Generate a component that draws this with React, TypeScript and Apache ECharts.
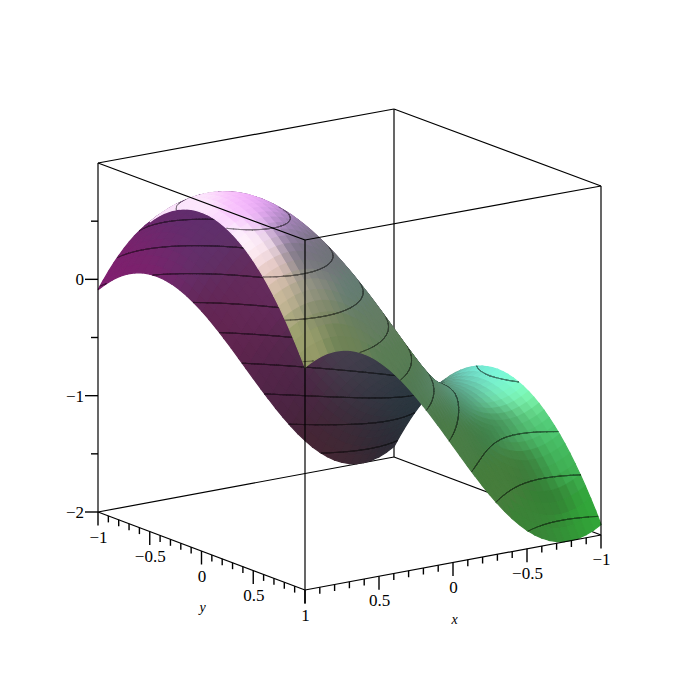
import React, { useEffect, useRef } from "react";
import * as echarts from "echarts";

// Sampled grid of the surface
const xValues = [-1,-0.95,-0.9,-0.85,-0.8,-0.75,-0.7,-0.65,-0.6,-0.55,-0.5,-0.45,-0.4,-0.35,-0.3,-0.25,-0.2,-0.15,-0.1,-0.05,0,0.05,0.1,0.15,0.2,0.25,0.3,0.35,0.4,0.45,0.5,0.55,0.6,0.65,0.7,0.75,0.8,0.85,0.9,0.95,1];
const yValues = [-1,-0.95,-0.9,-0.85,-0.8,-0.75,-0.7,-0.65,-0.6,-0.55,-0.5,-0.45,-0.4,-0.35,-0.3,-0.25,-0.2,-0.15,-0.1,-0.05,0,0.05,0.1,0.15,0.2,0.25,0.3,0.35,0.4,0.45,0.5,0.55,0.6,0.65,0.7,0.75,0.8,0.85,0.9,0.95,1];
// Height along x at y = 0
const ridgeAlongX = [-0.9093,-0.9463,-0.9738,-0.9917,-0.9996,-0.9975,-0.9854,-0.9636,-0.932,-0.8912,-0.8415,-0.7833,-0.7174,-0.6442,-0.5646,-0.4794,-0.3894,-0.2955,-0.1987,-0.0998,0,0.0998,0.1987,0.2955,0.3894,0.4794,0.5646,0.6442,0.7174,0.7833,0.8415,0.8912,0.932,0.9636,0.9854,0.9975,0.9996,0.9917,0.9738,0.9463,0.9093];
// Drop of the height along y
const dropAlongY = [1,0.9025,0.81,0.7225,0.64,0.5625,0.49,0.4225,0.36,0.3025,0.25,0.2025,0.16,0.1225,0.09,0.0625,0.04,0.0225,0.01,0.0025,0,0.0025,0.01,0.0225,0.04,0.0625,0.09,0.1225,0.16,0.2025,0.25,0.3025,0.36,0.4225,0.49,0.5625,0.64,0.7225,0.81,0.9025,1];
const contourLevels = [-1.85,-1.55,-1.25,-0.95,-0.65,-0.35,-0.05,0.25,0.55,0.85];

const xMajorTicks = [1,0.5,0,-0.5,-1];
const xMinorTicks = [0.9,0.8,0.7,0.6,0.4,0.3,0.2,0.1,-0.1,-0.2,-0.3,-0.4,-0.6,-0.7,-0.8,-0.9];
const yMajorTicks = [-1,-0.5,0,0.5,1];
const yMinorTicks = [-0.9,-0.8,-0.7,-0.6,-0.4,-0.3,-0.2,-0.1,0.1,0.2,0.3,0.4,0.6,0.7,0.8,0.9];
const zMajorTicks = [0,-1,-2];
const zMinorTicks = [0.5,-0.5,-1.5];
const fmt = (v: number) => String(v).replace("-", "\u2212");

// Viewing projection, in page pixels
const project = (x: number, y: number, z: number): [number, number] => [
  305 + 148 * (1 - x) - 103.5 * (1 - y),
  590 - 27.5 * (1 - x) - 39 * (1 - y) - (116.67 - 0.17 * (1 - x) - 0.17 * (1 - y)) * (z + 2),
];

// Shading: colours seen on each side of the sheet
const topShade: number[][] = [
  [190,200,250,225,250],[225,193,250,200,250],[205,205,255,240,255],[240,210,250,190,255],[250,200,240,170,250],
  [270,210,205,150,225],[290,225,150,125,170],[305,250,120,115,130],[325,265,110,115,120],[240,235,255,250,255],
  [255,250,255,235,245],[270,275,228,198,190],[285,300,200,185,150],[300,340,160,165,112],[305,360,145,150,100],
  [310,290,150,150,135],[320,310,125,135,100],[345,340,110,130,85],[350,290,100,125,115],[370,320,100,125,100],
  [390,360,90,125,85],[420,385,80,120,80],[440,410,75,120,70],[460,440,75,125,70],[490,490,70,125,60],
  [440,385,100,140,120],[480,368,120,245,225],[500,375,125,255,225],[490,370,125,250,232],[510,380,125,255,215],[465,378,110,200,190],[500,395,125,250,185],
  [525,400,130,250,175],[480,390,100,190,150],[465,400,70,130,95],[500,420,70,150,95],[540,425,85,210,125],
  [520,430,75,170,100],[490,430,60,120,65],[550,450,70,190,100],[530,465,55,120,55],[570,470,65,180,85],
  [510,470,70,125,60],[555,500,50,125,50],[590,505,50,170,60],[570,530,50,150,55],[595,520,50,165,55],
  [530,520,60,130,55],[545,530,55,135,55],
];
const underShade: number[][] = [
  [105,280,130,30,115],[150,245,115,40,110],[180,215,95,45,110],[200,255,95,50,105],[140,268,125,30,105],
  [250,300,100,45,95],[225,310,100,35,80],[280,370,85,40,80],[270,390,80,35,70],[240,350,95,35,75],
  [300,400,70,35,60],[310,450,70,35,50],[345,360,72,65,80],[380,380,52,60,70],[410,410,38,55,62],
  [380,445,42,40,50],[350,420,60,45,60],[335,462,70,40,50],
];
const shadeAt = (table: number[][], spread: number, px: number, py: number): number[] => {
  let w = 1e-9, r = 0, g = 0, b = 0;
  for (const c of table) {
    const d = (c[0] - px) ** 2 + (c[1] - py) ** 2;
    const k = Math.exp(-d / spread) + 1e-6 / (d + 1);
    w += k; r += k * c[2]; g += k * c[3]; b += k * c[4];
  }
  return [r / w, g / w, b / w];
};
const rgb = (c: number[], f: number) => `rgb(${Math.round(c[0] * f)},${Math.round(c[1] * f)},${Math.round(c[2] * f)})`;

const heightAt = (i: number, j: number) => ridgeAlongX[i] - dropAlongY[j];

type Quad = { pts: [number, number][]; fill: string; line: string; segs: number[][] };
const nx = xValues.length - 1;
const ny = yValues.length - 1;
const quads: Quad[] = [];
for (let i = 0; i < nx; i++) {
  for (let j = 0; j < ny; j++) {
    const pick = (a: number, b: number) => ({ z: heightAt(a, b), s: project(xValues[a], yValues[b], heightAt(a, b)) });
    const c = [pick(i, j), pick(i + 1, j), pick(i + 1, j + 1), pick(i, j + 1)];
    const pts = c.map((q) => q.s);
    let area = 0;
    for (let k = 0; k < 4; k++) {
      const n = (k + 1) % 4;
      area += pts[k][0] * pts[n][1] - pts[n][0] * pts[k][1];
    }
    const cx = (pts[0][0] + pts[1][0] + pts[2][0] + pts[3][0]) / 4;
    const cy = (pts[0][1] + pts[1][1] + pts[2][1] + pts[3][1]) / 4;
    const col = area < 0 ? shadeAt(topShade, 2 * 14 * 14, cx, cy) : shadeAt(underShade, 2 * 26 * 26, cx, cy);
    const segs: number[][] = [];
    for (const lev of contourLevels) {
      for (const t of [[c[0], c[1], c[2]], [c[0], c[2], c[3]]]) {
        const hits: number[][] = [];
        for (let k = 0; k < 3; k++) {
          const a = t[k], b = t[(k + 1) % 3];
          if ((a.z - lev) * (b.z - lev) < 0) {
            const f = (lev - a.z) / (b.z - a.z);
            hits.push([a.s[0] + f * (b.s[0] - a.s[0]), a.s[1] + f * (b.s[1] - a.s[1])]);
          }
        }
        if (hits.length === 2) segs.push([hits[0][0], hits[0][1], hits[1][0], hits[1][1]]);
      }
    }
    quads.push({ pts, fill: rgb(col, 1), line: rgb(col, 0.5), segs });
  }
}

const backEdges = [
  [1,-1,1,-1,-1,1],[-1,-1,1,-1,1,1],[-1,-1,-2,-1,-1,1],[1,-1,-2,-1,-1,-2],[-1,-1,-2,-1,1,-2],
];
const frontEdges = [
  [1,-1,1,1,1,1],[1,1,1,-1,1,1],[-1,1,-2,-1,1,1],[1,-1,-2,1,-1,1],[1,1,-2,1,1,1],[1,-1,-2,1,1,-2],[1,1,-2,-1,1,-2],
];

const tickSegs: number[][] = [];
for (const v of yMajorTicks) { const [a, b] = project(1, v, -2); tickSegs.push([a, b, a, b + 13.5]); }
for (const v of yMinorTicks) { const [a, b] = project(1, v, -2); tickSegs.push([a, b, a, b + 6.5]); }
for (const v of xMajorTicks) { const [a, b] = project(v, 1, -2); tickSegs.push([a, b, a, b + 13.5]); }
for (const v of xMinorTicks) { const [a, b] = project(v, 1, -2); tickSegs.push([a, b, a, b + 6.5]); }
for (const v of zMajorTicks) { const [a, b] = project(1, -1, v); tickSegs.push([a, b, a - 13, b]); }
for (const v of zMinorTicks) { const [a, b] = project(1, -1, v); tickSegs.push([a, b, a - 7, b]); }

const FONT = '"Liberation Serif", "Times New Roman", serif';
type Lab = { t: string; p: [number, number]; align: string; italic?: boolean };
const labels: Lab[] = [];
for (const v of yMajorTicks) { const [a, b] = project(1, v, -2); labels.push({ t: fmt(v), p: [a + 0.5, b + 25], align: "center" }); }
for (const v of xMajorTicks) { if (v !== 1) { const [a, b] = project(v, 1, -2); labels.push({ t: fmt(v), p: [a + 0.5, b + 24.5], align: "center" }); } }
for (const v of zMajorTicks) { const [a, b] = project(1, -1, v); labels.push({ t: fmt(v), p: [a - 14, b + 0.5], align: "right" }); }
{
  const [a, b] = project(1, 0, -2); labels.push({ t: "y", p: [a + 1, b + 56], align: "center", italic: true });
  const [c, d] = project(0, 1, -2); labels.push({ t: "x", p: [c + 1.5, d + 57], align: "center", italic: true });
}

const edgeSeries = (edges: number[][], z: number) => ({
  type: "custom", coordinateSystem: "cartesian2d", silent: true, clip: false, z,
  data: edges.map((_, k) => [k, 0]),
  renderItem: (params: any, api: any) => {
    const e = edges[params.dataIndex];
    const a = api.coord(project(e[0], e[1], e[2]));
    const b = api.coord(project(e[3], e[4], e[5]));
    return { type: "line", shape: { x1: a[0], y1: a[1], x2: b[0], y2: b[1] }, style: { stroke: "#000", lineWidth: 1.2 } };
  },
});

export default function App() {
  const ref = useRef<HTMLDivElement>(null);
  useEffect(() => {
    document.body.style.margin = "0";
    const chart = echarts.init(ref.current!, undefined, { renderer: "svg" });
    chart.setOption({
      animation: false,
      backgroundColor: "#fff",
      grid: { left: 0, top: 0, width: 700, height: 700 },
      xAxis: { type: "value", min: 0, max: 700, show: false },
      yAxis: { type: "value", min: 0, max: 700, inverse: true, show: false },
      series: [
        edgeSeries(backEdges, 1),
        {
          type: "custom", coordinateSystem: "cartesian2d", silent: true, clip: false, z: 2,
          data: quads.map((_, k) => [k, 0]),
          renderItem: (params: any, api: any) => {
            const idx = params.dataIndex;
            const q = quads[idx];
            const children: any[] = [{
              type: "polygon",
              shape: { points: q.pts.map((p) => api.coord(p)) },
              style: { fill: q.fill, stroke: q.fill, lineWidth: 1.2 },
            }];
            const i = Math.floor(idx / ny), j = idx % ny;
            // Contours of this cell and of the cells just behind it, whose ends its edge has covered.
            const sources = [q];
            if (j > 0) sources.push(quads[idx - 1]);
            if (i > 0) sources.push(quads[idx - ny]);
            if (i > 0 && j > 0) sources.push(quads[idx - ny - 1]);
            for (const src of sources) {
              for (const s of src.segs) {
                const a = api.coord([s[0], s[1]]), b = api.coord([s[2], s[3]]);
                children.push({
                  type: "line",
                  shape: { x1: a[0], y1: a[1], x2: b[0], y2: b[1] },
                  style: { stroke: src.line, lineWidth: 0.8, lineCap: "round" },
                });
              }
            }
            return { type: "group", children };
          },
        },
        edgeSeries(frontEdges, 3),
        {
          type: "custom", coordinateSystem: "cartesian2d", silent: true, clip: false, z: 3,
          data: tickSegs.map((_, k) => [k, 0]),
          renderItem: (params: any, api: any) => {
            const s = tickSegs[params.dataIndex];
            const a = api.coord([s[0], s[1]]), b = api.coord([s[2], s[3]]);
            return { type: "line", shape: { x1: a[0], y1: a[1], x2: b[0], y2: b[1] }, style: { stroke: "#000", lineWidth: 1.4 } };
          },
        },
        {
          type: "custom", coordinateSystem: "cartesian2d", silent: true, clip: false, z: 4,
          data: labels.map((_, k) => [k, 0]),
          renderItem: (params: any, api: any) => {
            const l = labels[params.dataIndex];
            const a = api.coord(l.p);
            return {
              type: "text", x: a[0], y: a[1],
              style: {
                text: l.t, fill: "#000", align: l.align, verticalAlign: "middle",
                fontFamily: FONT, fontSize: l.italic ? 14 : 17, fontStyle: l.italic ? "italic" : "normal",
              },
            };
          },
        },
      ],
    });
    return () => chart.dispose();
  }, []);
  return <div ref={ref} style={{ width: 700, height: 700 }} />;
}
